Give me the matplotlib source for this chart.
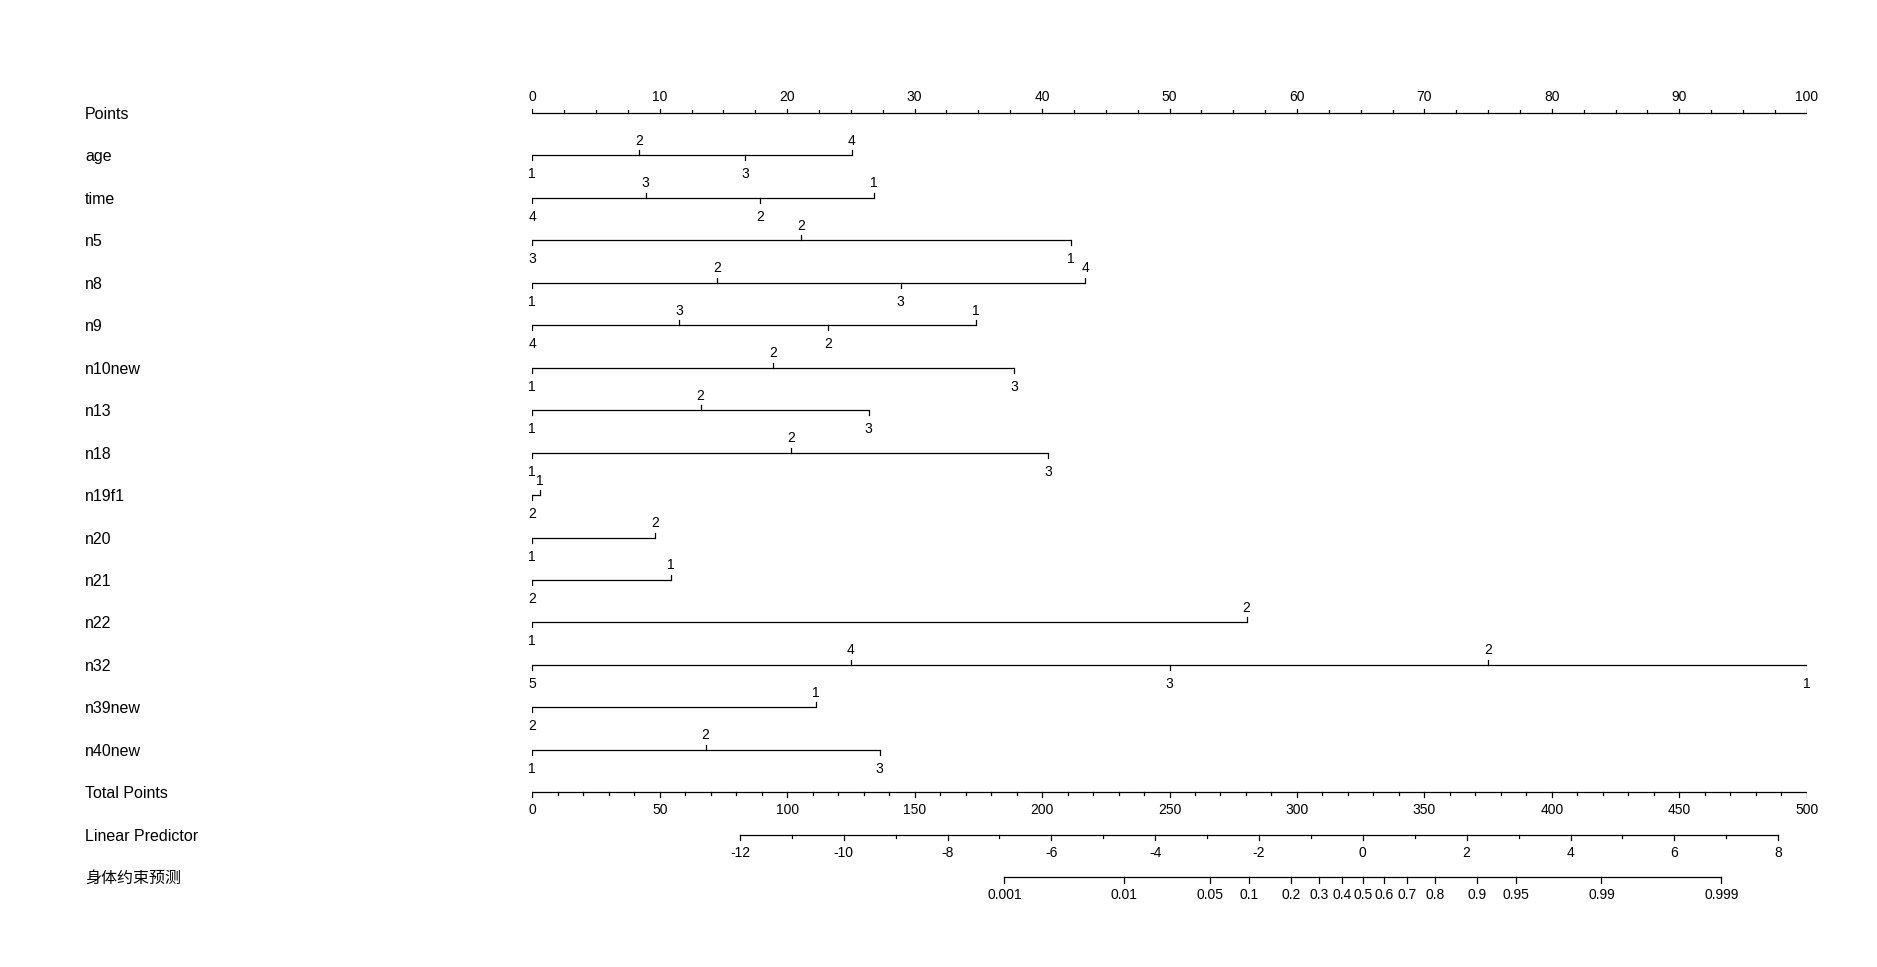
"""
Nomogram for 身体约束预测 (redrawn from the rms nomogram output).
"""
import numpy as np
import matplotlib
matplotlib.use('Agg')
import matplotlib.pyplot as plt

plt.rcParams['font.family'] = ['Liberation Sans', 'DejaVu Sans']

# points per factor level
age_levels = ['1', '2', '3', '4']
age_points = [0, 8.35, 16.7, 25.05]
time_levels = ['4', '3', '2', '1']
time_points = [0, 8.9, 17.85, 26.8]
n5_levels = ['3', '2', '1']
n5_points = [0, 21.1, 42.25]
n8_levels = ['1', '2', '3', '4']
n8_points = [0, 14.5, 28.9, 43.4]
n9_levels = ['4', '3', '2', '1']
n9_points = [0, 11.5, 23.2, 34.8]
n10new_levels = ['1', '2', '3']
n10new_points = [0, 18.9, 37.8]
n13_levels = ['1', '2', '3']
n13_points = [0, 13.2, 26.4]
n18_levels = ['1', '2', '3']
n18_points = [0, 20.3, 40.5]
n19f1_levels = ['2', '1']
n19f1_points = [0, 0.57]
n20_levels = ['1', '2']
n20_points = [0, 9.65]
n21_levels = ['2', '1']
n21_points = [0, 10.85]
n22_levels = ['1', '2']
n22_points = [0, 56.05]
n32_levels = ['5', '4', '3', '2', '1']
n32_points = [0, 25.0, 50.0, 75.0, 100.0]
n39new_levels = ['2', '1']
n39new_points = [0, 22.25]
n40new_levels = ['1', '2', '3']
n40new_points = [0, 13.6, 27.25]

variables = [
    ('age', age_levels, age_points),
    ('time', time_levels, time_points),
    ('n5', n5_levels, n5_points),
    ('n8', n8_levels, n8_points),
    ('n9', n9_levels, n9_points),
    ('n10new', n10new_levels, n10new_points),
    ('n13', n13_levels, n13_points),
    ('n18', n18_levels, n18_points),
    ('n19f1', n19f1_levels, n19f1_points),
    ('n20', n20_levels, n20_points),
    ('n21', n21_levels, n21_points),
    ('n22', n22_levels, n22_points),
    ('n32', n32_levels, n32_points),
    ('n39new', n39new_levels, n39new_points),
    ('n40new', n40new_levels, n40new_points),
]

total_points_ticks = np.arange(0, 501, 10)
total_points_labels = np.arange(0, 501, 50)
lp_ticks = np.arange(-12, 9, 1)
lp_labels = np.arange(-12, 9, 2)
lp_intercept = -16.0      # linear predictor at 0 total points
lp_slope = 0.0491         # per total point
prob_ticks = [0.001, 0.01, 0.05, 0.1, 0.2, 0.3, 0.4, 0.5, 0.6, 0.7, 0.8,
              0.9, 0.95, 0.99, 0.999]
prob_labels = ['0.001', '0.01', '0.05', '0.1', '0.2', '0.3', '0.4', '0.5',
               '0.6', '0.7', '0.8', '0.9', '0.95', '0.99', '0.999']

W, H = 1877, 967
ROW = 42.45          # pixels between rows
Y0 = 113             # pixel y of the Points axis
X0, X1 = 532.3, 1806.7
LW = 0.9
TICK_FS = 10
NAME_FS = 11.5


def px(n):
    return n / ROW


def lab(ax, x, y, s, dy_px, fs=TICK_FS):
    ax.annotate(s, (x, y), xytext=(0, dy_px * 0.72), textcoords='offset points',
                ha='center', va='center', fontsize=fs, annotation_clip=False)


def tp_to_x(tp):
    return np.asarray(tp) / 5.0


def lp_to_x(lp):
    return tp_to_x((np.asarray(lp) - lp_intercept) / lp_slope)


fig = plt.figure(figsize=(W / 100, H / 100), dpi=100)
ax = fig.add_axes([X0 / W, 0, (X1 - X0) / W, 1])
ax.set_xlim(0, 100)
ax.set_ylim((H - Y0) / ROW, -Y0 / ROW)
ax.axis('off')

# Points axis
ax.plot([0, 100], [0, 0], color='black', lw=LW, solid_capstyle='butt')
for v in np.arange(0, 100.01, 2.5):
    major = v % 10 == 0
    ax.plot([v, v], [0, -px(4.5 if major else 3)], color='black', lw=LW)
for v in range(0, 101, 10):
    lab(ax, v, 0, str(v), 16)

# one line per variable, labels alternating below/above
for i, (name, levels, pts) in enumerate(variables, start=1):
    order = np.argsort(pts)
    ax.plot([min(pts), max(pts)], [i, i], color='black', lw=LW,
            solid_capstyle='butt')
    for k, j in enumerate(order):
        above = k % 2 == 1
        ax.plot([pts[j], pts[j]], [i, i - px(5) if above else i + px(5)],
                color='black', lw=LW)
        lab(ax, pts[j], i, levels[j], 14.5 if above else -19)

# Total Points
r = len(variables) + 1
ax.plot(tp_to_x([0, 500]), [r, r], color='black', lw=LW)
for t in total_points_ticks:
    ln = 4.5 if t % 50 == 0 else 3
    ax.plot(tp_to_x([t, t]), [r, r + px(ln)], color='black', lw=LW)
for t in total_points_labels:
    lab(ax, tp_to_x(t), r, str(t), -18)

# Linear Predictor
r += 1
ax.plot(lp_to_x([lp_ticks[0], lp_ticks[-1]]), [r, r], color='black', lw=LW)
for t in lp_ticks:
    ln = 5 if t % 2 == 0 else 3
    ax.plot(lp_to_x([t, t]), [r, r + px(ln)], color='black', lw=LW)
for t in lp_labels:
    lab(ax, lp_to_x(t), r, str(t), -18.5)

# probability
r += 1
prob_lp = np.log(np.array(prob_ticks) / (1 - np.array(prob_ticks)))
ax.plot(lp_to_x([prob_lp[0], prob_lp[-1]]), [r, r], color='black', lw=LW)
for p, s in zip(prob_lp, prob_labels):
    ax.plot(lp_to_x([p, p]), [r, r + px(5.5)], color='black', lw=LW)
    lab(ax, lp_to_x(p), r, s, -18)

# row names
names = ['Points'] + [v[0] for v in variables] + ['Total Points', 'Linear Predictor', '身体约束预测']
for i, name in enumerate(names):
    kw = {}
    if name == '身体约束预测':
        kw['family'] = ['Noto Sans CJK SC', 'DejaVu Sans']
    fig.text(85 / W, 1 - (Y0 + 1.5 + ROW * i) / H, name, ha='left', va='center',
             fontsize=NAME_FS, **kw)

plt.savefig('out.png', dpi=100)
